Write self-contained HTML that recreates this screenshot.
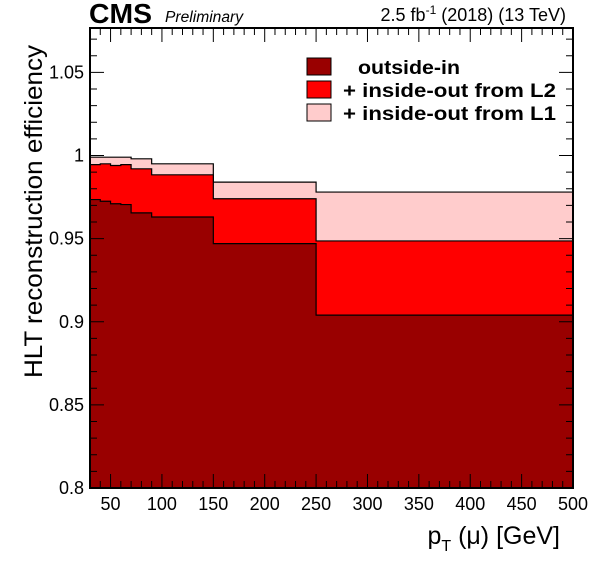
<!DOCTYPE html>
<html><head><meta charset="utf-8"><style>
body{margin:0;background:#fff;}
svg text{font-family:"Liberation Sans",sans-serif;}
</style></head><body>
<svg id="c" width="596" height="572" xmlns="http://www.w3.org/2000/svg">
<g id="bars"></g><g id="axes"></g>
<text x="89" y="23" font-size="28" font-weight="bold" textLength="63" lengthAdjust="spacingAndGlyphs">CMS</text>
<text x="165" y="22" font-size="15.5" font-style="italic" textLength="78" lengthAdjust="spacingAndGlyphs">Preliminary</text>
<text x="566" y="21" font-size="18" text-anchor="end">2.5 fb<tspan dy="-7" font-size="12">-1</tspan><tspan dy="7"> (2018) (13 TeV)</tspan></text>
<text transform="translate(42,378) rotate(-90)" font-size="25" textLength="333" lengthAdjust="spacingAndGlyphs">HLT reconstruction efficiency</text>
<text x="560" y="544" font-size="25" text-anchor="end">p<tspan dy="7" font-size="16">T</tspan><tspan dy="-7"> (μ) [GeV]</tspan></text>
<g>
<rect x="307" y="58" width="24" height="17" fill="#990000" stroke="#000"/>
<text x="358" y="74" font-size="19" font-weight="bold" textLength="102" lengthAdjust="spacingAndGlyphs">outside-in</text>
<rect x="307" y="81" width="24" height="17" fill="#ff0000" stroke="#000"/>
<text x="343" y="97" font-size="19" font-weight="bold" textLength="213" lengthAdjust="spacingAndGlyphs">+ inside-out from L2</text>
<rect x="307" y="104" width="24" height="17" fill="#ffcccc" stroke="#000"/>
<text x="343" y="120" font-size="19" font-weight="bold" textLength="213" lengthAdjust="spacingAndGlyphs">+ inside-out from L1</text>
</g>
</svg>
<script>
const edges=[30,40,50,60,70,90,150,250,500];
const outsideIn=[0.9735,0.9725,0.971,0.9705,0.9655,0.963,0.947,0.904];
const fromL2=[0.9945,0.995,0.994,0.9945,0.992,0.9884,0.974,0.9486];
const fromL1=[0.999,0.999,0.999,0.999,0.998,0.995,0.984,0.978];
const xTicks=[50,100,150,200,250,300,350,400,450,500];
const yTicks=[0.8,0.85,0.9,0.95,1,1.05];
const yTickLabels=["0.8","0.85","0.9","0.95","1","1.05"];
const X0=30,X1=500,Y0=0.8,Y1=1.0767,L=90,R=573,T=28,B=488;
const sx=v=>L+(v-X0)/(X1-X0)*(R-L);
const sy=v=>B-(v-Y0)/(Y1-Y0)*(B-T);
const NS="http://www.w3.org/2000/svg";
const bars=document.getElementById('bars'),axes=document.getElementById('axes');
function mk(p,tag,a){const e=document.createElementNS(NS,tag);for(const k in a)e.setAttribute(k,a[k]);p.appendChild(e);return e;}
function series(vals,fill,name){
  let d=`M${sx(edges[0])},${sy(Y0)}`;
  vals.forEach((v,i)=>{d+=`L${sx(edges[i])},${sy(v)}L${sx(edges[i+1])},${sy(v)}`;});
  d+=`L${sx(edges[edges.length-1])},${sy(Y0)}Z`;
  const p=mk(bars,'path',{d:d,fill:fill,stroke:'#000','stroke-width':1.2});
  
  
}
series(fromL1,'#ffcccc','series-inside-out-l1');
series(fromL2,'#ff0000','series-inside-out-l2');
series(outsideIn,'#990000','series-outside-in');
const fr=mk(axes,'rect',{x:L,y:T,width:R-L,height:B-T,fill:'none',stroke:'#000','stroke-width':2});


for(let v=30;v<=500;v+=10){const big=v%50===0;const h=big?14:7;
  mk(axes,'line',{x1:sx(v),x2:sx(v),y1:B,y2:B-h,stroke:'#000'});
  mk(axes,'line',{x1:sx(v),x2:sx(v),y1:T,y2:T+h,stroke:'#000'});}
xTicks.forEach(v=>{const t=mk(axes,'text',{x:sx(v),y:B+22,'font-size':18,'text-anchor':'middle'});t.textContent=v;
  
  });
for(let k=0;k<=27;k++){const v=0.8+k*0.01;const big=k%5===0;const w=big?14:7;
  mk(axes,'line',{x1:L,x2:L+w,y1:sy(v),y2:sy(v),stroke:'#000'});
  mk(axes,'line',{x1:R,x2:R-w,y1:sy(v),y2:sy(v),stroke:'#000'});}
yTicks.forEach((v,i)=>{const t=mk(axes,'text',{x:L-6,y:sy(v)+6,'font-size':18,'text-anchor':'end'});t.textContent=yTickLabels[i];
  
  });
</script>
</body></html>
